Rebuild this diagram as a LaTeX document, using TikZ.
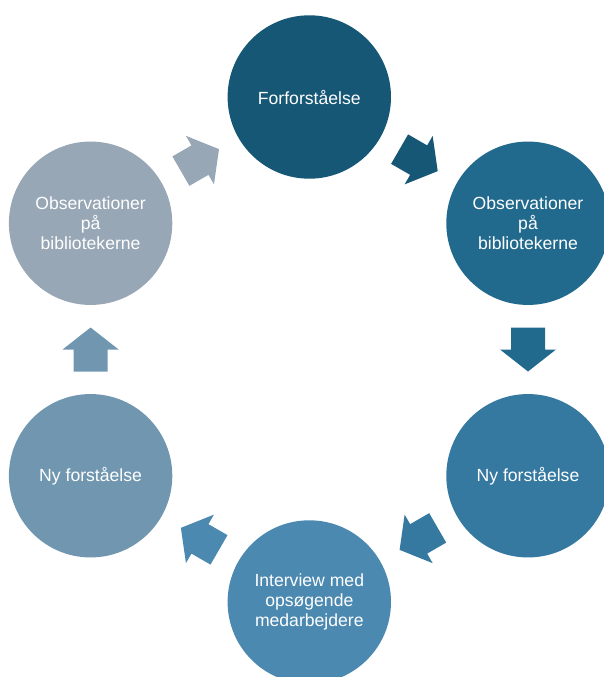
\documentclass[tikz,border=0pt]{standalone}
\usepackage{fontspec}
\setmainfont{Liberation Sans}
\usetikzlibrary{calc}
\definecolor{cA}{HTML}{155775}
\definecolor{cB}{HTML}{226A8D}
\definecolor{cC}{HTML}{3579A1}
\definecolor{cD}{HTML}{4B89B1}
\definecolor{cE}{HTML}{7196B0}
\definecolor{cF}{HTML}{97A7B6}
\tikzset{
  stage/.style={circle, minimum size=163.4pt, inner sep=0pt, text=white, align=center,
    font=\fontsize{17.6}{20}\selectfont},
  blockarrow/.pic={\fill (-22,-17) -- (0,-17) -- (0,-28) -- (22,0) -- (0,28) -- (0,17) -- (-22,17) -- cycle;}
}
\begin{document}
\begin{tikzpicture}[x=1pt,y=-1pt]
\useasboundingbox (0,0) rectangle (604,677);
\clip (0,0) rectangle (604,677);
\node[stage, fill=cA] (t) at (309.3,97) {Forforståelse};
\node[stage, fill=cB] (ru) at (528,223.25) {Observationer\\på\\bibliotekerne};
\node[stage, fill=cC] (rl) at (528,475.75) {Ny forståelse};
\node[stage, fill=cD] (b) at (309.3,602) {Interview med\\opsøgende\\medarbejdere};
\node[stage, fill=cE] (ll) at (90.6,475.75) {Ny forståelse};
\node[stage, fill=cF] (lu) at (90.6,223.25) {Observationer\\på\\bibliotekerne};
\pic[cA, rotate=-30] at ($(t)!0.5!(ru)$) {blockarrow};
\pic[cB, rotate=-90] at ($(ru)!0.5!(rl)$) {blockarrow};
\pic[cC, rotate=-150] at ($(rl)!0.5!(b)$) {blockarrow};
\pic[cD, rotate=150] at ($(b)!0.5!(ll)$) {blockarrow};
\pic[cE, rotate=90] at ($(ll)!0.5!(lu)$) {blockarrow};
\pic[cF, rotate=30] at ($(lu)!0.5!(t)$) {blockarrow};
\end{tikzpicture}
\end{document}
